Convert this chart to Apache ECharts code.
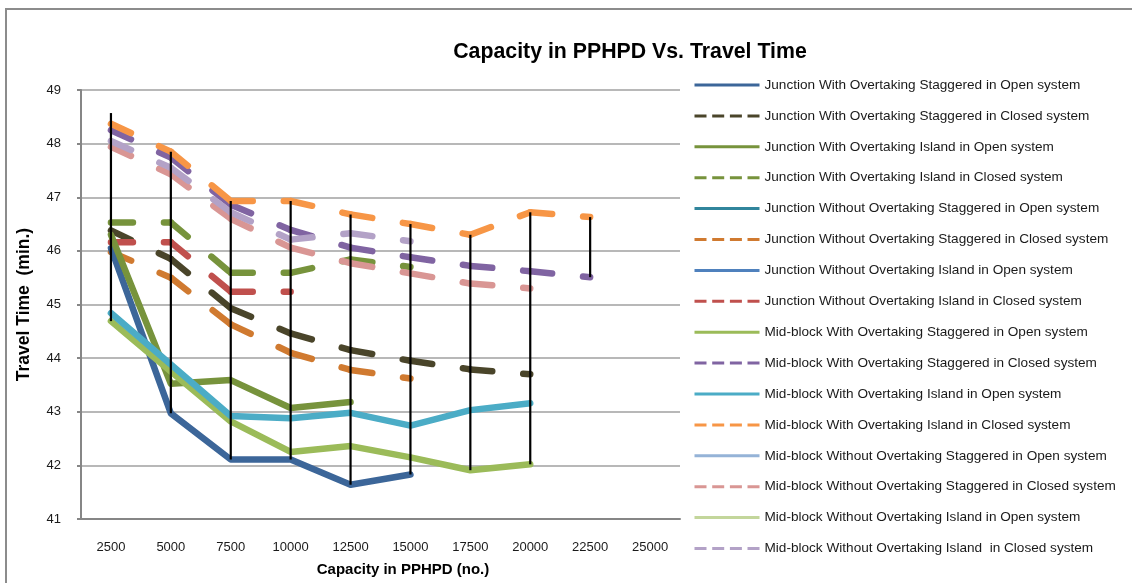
<!DOCTYPE html>
<html>
<head>
<meta charset="utf-8">
<script src="https://cdn.jsdelivr.net/npm/echarts@6/dist/echarts.min.js"></script>
<style>
html,body{margin:0;padding:0;background:#fff;}
#chart{width:1132px;height:583px;}
</style>
</head>
<body>
<div id="chart"></div>
<script>
// ---------- data ----------
const categories = ['2500','5000','7500','10000','12500','15000','17500','20000','22500','25000'];

const seriesNames = [
  'Junction With Overtaking Staggered in Open system',
  'Junction With Overtaking Staggered in Closed system',
  'Junction With Overtaking Island in Open system',
  'Junction With Overtaking Island in Closed system',
  'Junction Without Overtaking Staggered in Open system',
  'Junction Without Overtaking Staggered in Closed system',
  'Junction Without Overtaking Island in Open system',
  'Junction Without Overtaking Island in Closed system',
  'Mid-block With Overtaking Staggered in Open system',
  'Mid-block With Overtaking Staggered in Closed system',
  'Mid-block With Overtaking Island in Open system',
  'Mid-block With Overtaking Island in Closed system',
  'Mid-block Without Overtaking Staggered in Open system',
  'Mid-block Without Overtaking Staggered in Closed system',
  'Mid-block Without Overtaking Island in Open system',
  'Mid-block Without Overtaking Island  in Closed system'
];

const jwoStagOpen    = [46.05, 42.97, 42.11, 42.11, 41.64, 41.83, null, null, null, null];
const jwoStagClosed  = [46.38, 45.85, 44.93, 44.46, 44.15, 43.95, 43.79, 43.70, null, null];
const jwoIslOpen     = [46.30, 43.52, 43.59, 43.07, 43.18, null, null, null, null, null];
const jwoIslClosed   = [46.53, 46.53, 45.59, 45.59, 45.84, 45.70, null, null, null, null];
const jwtStagOpen    = [null, null, null, null, null, null, null, null, null, null];
const jwtStagClosed  = [45.98, 45.50, 44.63, 44.10, 43.78, 43.62, null, null, null, null];
const jwtIslOpen     = [null, null, null, null, null, null, null, null, null, null];
const jwtIslClosed   = [46.16, 46.16, 45.24, 45.24, null, null, null, null, null, null];
const mwoStagOpen    = [44.69, 43.75, 42.82, 42.25, 42.36, 42.15, 41.91, 42.02, null, null];
const mwoStagClosed  = [48.25, 47.74, 46.86, 46.39, 46.06, 45.88, 45.72, 45.62, 45.51, null];
const mwoIslOpen     = [44.84, 43.88, 42.92, 42.88, 42.98, 42.74, 43.03, 43.16, null, null];
const mwoIslClosed   = [48.37, 47.85, 46.93, 46.93, 46.68, 46.50, 46.30, 46.72, 46.63, null];
const mwtStagOpen    = [48.57, null, null, null, null, null, null, null, null, null];
const mwtStagClosed  = [47.94, 47.43, 46.60, 46.06, 45.77, 45.58, 45.39, 45.30, null, null];
const mwtIslOpen     = [null, null, null, null, null, null, null, null, null, null];
const mwtIslClosed   = [48.05, 47.55, 46.72, 46.21, 46.33, 46.18, null, null, null, null];

const seriesValues = [jwoStagOpen, jwoStagClosed, jwoIslOpen, jwoIslClosed, jwtStagOpen, jwtStagClosed,
  jwtIslOpen, jwtIslClosed, mwoStagOpen, mwoStagClosed, mwoIslOpen, mwoIslClosed,
  mwtStagOpen, mwtStagClosed, mwtIslOpen, mwtIslClosed];

const yTicks = {min: 41, max: 49, interval: 1};

// ---------- styles ----------
const colors = ['#3C6699','#4A452A','#77933C','#77933C','#31859C','#D07A30','#4F81BD','#C0504D',
                '#9BBB59','#8064A2','#4BACC6','#F79646','#95B3D7','#D99694','#C3D69B','#B3A2C7'];
const dashed = [false,true,false,true,false,true,false,true,false,true,false,true,false,true,false,true];
const FONT = 'Liberation Sans, Arial, sans-serif';
const LINE_W = 6.5;
const DASH = [22, 31];   // dash pattern restarts at each vertex (as in the original)
const LEGEND_DASH_ICON = 'path://M0,0h12v3h-12zM17.7,0h12v3h-12zM35.4,0h12v3h-12zM53,0h12v3h-12z';

// high-low lines computed from the series data
const highLow = categories.map((c, i) => {
  const vals = seriesValues.map(s => s[i]).filter(v => v != null);
  return vals.length >= 2 ? [i, Math.min(...vals), Math.max(...vals)] : null;
}).filter(d => d);

// consecutive-point segments of a series: [index, value_i, value_i+1]
function segmentsOf(values) {
  const out = [];
  for (let i = 0; i < values.length - 1; i++) {
    if (values[i] != null && values[i + 1] != null) out.push([i, values[i], values[i + 1]]);
  }
  return out;
}

const series = seriesNames.map((name, k) => {
  if (!dashed[k]) {
    return {
      name: name,
      type: 'line',
      data: seriesValues[k],
      symbol: 'none',
      showSymbol: false,
      connectNulls: false,
      color: colors[k],
      itemStyle: {color: colors[k]},
      lineStyle: {color: colors[k], width: LINE_W, type: 'solid', cap: 'round', join: 'round'},
      emphasis: {disabled: true},
      silent: true,
      z: 2
    };
  }
  const col = colors[k];
  return {
    name: name,
    type: 'custom',
    data: segmentsOf(seriesValues[k]),
    encode: {x: 0, y: [1, 2]},
    itemStyle: {color: col},
    silent: true,
    z: 2,
    renderItem: function (params, api) {
      const p1 = api.coord([api.value(0), api.value(1)]);
      const p2 = api.coord([api.value(0) + 1, api.value(2)]);
      return {type: 'line', shape: {x1: p1[0], y1: p1[1], x2: p2[0], y2: p2[1]},
              style: {stroke: col, lineWidth: LINE_W, lineDash: DASH, lineCap: 'round', fill: null}};
    }
  };
});

series.push({
  name: 'High-Low',
  type: 'custom',
  data: highLow,
  encode: {x: 0, y: [1, 2]},
  silent: true,
  z: 5,
  renderItem: function (params, api) {
    const p1 = api.coord([api.value(0), api.value(1)]);
    const p2 = api.coord([api.value(0), api.value(2)]);
    return {type: 'line', shape: {x1: p1[0], y1: p1[1], x2: p2[0], y2: p2[1]},
            style: {stroke: '#000', lineWidth: 2.2}};
  }
});

const legendData = seriesNames.map((n, k) => dashed[k]
  ? {name: n, icon: LEGEND_DASH_ICON, itemStyle: {color: colors[k], opacity: 1}}
  : {name: n, itemStyle: {opacity: 0},
     lineStyle: {width: 3, type: 'solid', color: colors[k], cap: 'butt', opacity: 1}});

const chart = echarts.init(document.getElementById('chart'), null, {renderer: 'canvas'});
chart.setOption({
  animation: false,
  backgroundColor: '#fff',
  grid: {left: 81, right: 452, top: 90, bottom: 64, containLabel: false},
  graphic: [
    {type: 'rect', z: -10, shape: {x: 6, y: 9, width: 1300, height: 800},
     style: {fill: 'none', stroke: '#8C8C8C', lineWidth: 2}},
    {type: 'text', x: 630, y: 52, z: 10,
     style: {text: 'Capacity in PPHPD Vs. Travel Time', font: 'bold 21.3px ' + FONT, fill: '#000',
             align: 'center', verticalAlign: 'middle', textAlign: 'center', textVerticalAlign: 'middle'}},
    {type: 'text', x: 403, y: 570, z: 10,
     style: {text: 'Capacity in PPHPD (no.)', font: 'bold 15px ' + FONT, fill: '#000',
             align: 'center', verticalAlign: 'middle', textAlign: 'center', textVerticalAlign: 'middle'}}
  ],
  legend: {
    orient: 'vertical',
    left: 693,
    top: 78,
    padding: 0,
    itemWidth: 65,
    itemHeight: 3,
    itemGap: 16.9,
    selectedMode: false,
    textStyle: {fontFamily: FONT, fontSize: 13.6, color: '#1a1a1a'},
    data: legendData
  },
  xAxis: {
    type: 'category',
    data: categories,
    boundaryGap: true,
    axisLine: {lineStyle: {color: '#868686', width: 2}},
    axisTick: {show: false},
    axisLabel: {fontFamily: FONT, fontSize: 13, color: '#1a1a1a', margin: 22, interval: 0},
    splitLine: {show: false}
  },
  yAxis: {
    type: 'value',
    min: yTicks.min, max: yTicks.max, interval: yTicks.interval,
    name: 'Travel Time  (min.)',
    nameLocation: 'middle',
    nameGap: 48,
    nameRotate: 90,
    nameTextStyle: {fontFamily: FONT, fontSize: 17.5, fontWeight: 'bold', color: '#000'},
    axisLine: {show: true, lineStyle: {color: '#868686', width: 2}},
    axisTick: {show: true, length: 4, lineStyle: {color: '#868686', width: 2}},
    axisLabel: {fontFamily: FONT, fontSize: 13, color: '#1a1a1a', margin: 20},
    splitLine: {show: true, lineStyle: {color: '#A0A0A0', width: 1.5}}
  },
  series: series
});
</script>
</body>
</html>
